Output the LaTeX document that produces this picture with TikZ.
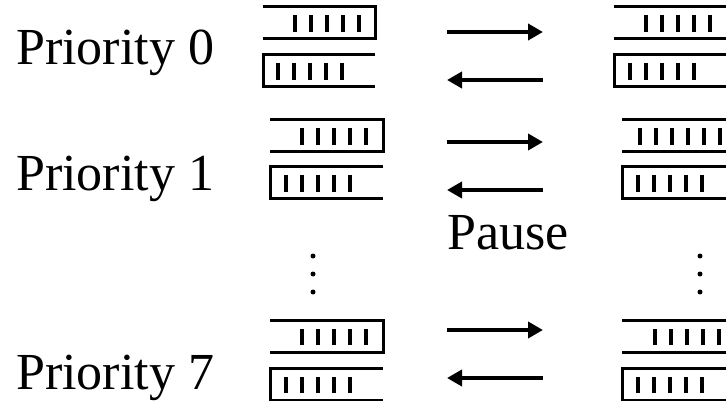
\documentclass[tikz,border=0pt]{standalone}
\usepackage{fontspec}
\setmainfont{Liberation Serif}
\usetikzlibrary{arrows.meta}
\tikzset{qline/.style={line width=3pt}}
\tikzset{slot/.style={fill=black}}
\tikzset{move/.style={line width=4pt, -{Triangle[length=15pt,width=16pt]}}}
\tikzset{prio/.style={font=\fontsize{52}{52}\selectfont, inner sep=0pt, anchor=base west}}

% queue with the wall on the right: left, right, top, first slot, slots
\newcommand{\outq}[5]{%
  \draw[qline] (#1,#3) -- (#2,#3) -- (#2,#3+32) -- (#1,#3+32);
  \foreach \k in {1,...,#5}
    \fill[slot] (#4+16*\k-18.3,#3+8.5) rectangle ++(4.6,16.5);
}
% queue with the wall on the left
\newcommand{\inq}[5]{%
  \draw[qline] (#2,#3) -- (#1,#3) -- (#1,#3+32) -- (#2,#3+32);
  \foreach \k in {1,...,#5}
    \fill[slot] (#4+16*\k-18.3,#3+8.5) rectangle ++(4.6,16.5);
}

\begin{document}
\begin{tikzpicture}[x=1pt, y=-1pt]
      \useasboundingbox (0,0) rectangle (726,401);
      \clip (0,0) rectangle (726,401);

      \node[prio] (p0) at (16,65) {Priority 0};
      \node[prio] (p1) at (16,191) {Priority 1};
      \node[prio] (p7) at (16,389) {Priority 7};
      \node[prio] (pause) at (447,249) {Pause};

      % priority 0
      \outq{263}{375}{7}{295}{5}
      \inq{263}{375}{55}{278}{5}
      \outq{614}{740}{7}{646}{5}
      \inq{614}{740}{55}{630}{5}

      % priority 1
      \outq{270}{383}{120}{302}{5}
      \inq{270}{383}{167}{286}{5}
      \outq{622}{760}{120}{640}{6}
      \inq{622}{760}{167}{638}{5}

      % priority 7
      \outq{270}{383}{320}{302}{5}
      \inq{270}{383}{368}{286}{5}
      \outq{622}{760}{320}{655}{5}
      \inq{622}{760}{368}{638}{5}

      \coordinate (a0) at (447,32);  \coordinate (b0) at (543,32);
      \coordinate (c0) at (447,80);  \coordinate (d0) at (543,80);
      \coordinate (a1) at (447,142); \coordinate (b1) at (543,142);
      \coordinate (c1) at (447,190); \coordinate (d1) at (543,190);
      \coordinate (a7) at (447,330); \coordinate (b7) at (543,330);
      \coordinate (c7) at (447,378); \coordinate (d7) at (543,378);

      \draw[move] (a0) -- (b0);
      \draw[move] (d0) -- (c0);
      \draw[move] (a1) -- (b1);
      \draw[move] (d1) -- (c1);
      \draw[move] (a7) -- (b7);
      \draw[move] (d7) -- (c7);

      \foreach \y in {256,274,292} {
        \fill (313,\y) circle (2.5);
        \fill (700,\y) circle (2.5);
      }
    \end{tikzpicture}
\end{document}
